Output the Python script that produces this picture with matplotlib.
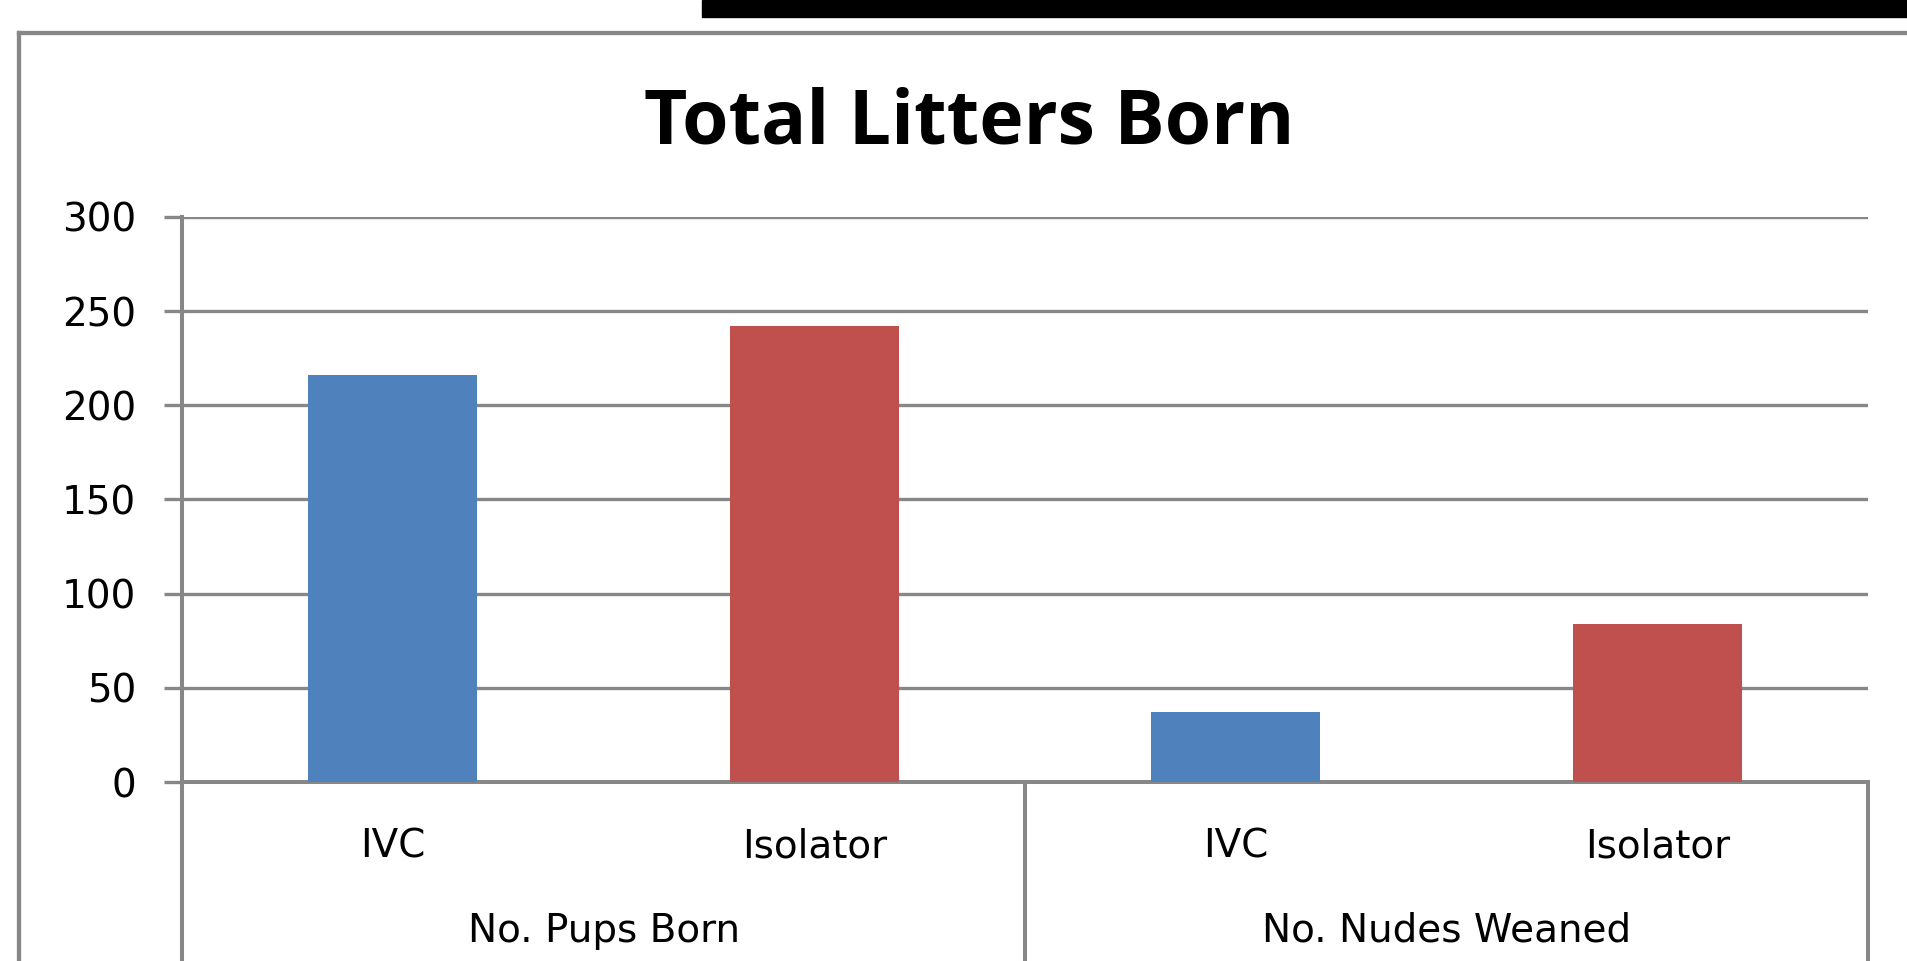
import matplotlib.pyplot as plt
from matplotlib.transforms import blended_transform_factory

# data
groups = ['No. Pups Born', 'No. Nudes Weaned']
housing = ['IVC', 'Isolator', 'IVC', 'Isolator']
counts = [216, 242, 37, 84]
bar_colors = ['#4F81BD', '#C0504D', '#4F81BD', '#C0504D']
yticks = [0, 50, 100, 150, 200, 250, 300]

W, H = 1908, 961
grey = '#878787'
fig = plt.figure(figsize=(W / 100, H / 100), dpi=100)
fig.patch.set_facecolor('white')

# outer chart frame (only left and top edges are visible) and black strip at top
fig.add_artist(plt.Line2D([19 / W, 19 / W], [0, 1 - 33 / H], color=grey, lw=3.1))
fig.add_artist(plt.Line2D([19 / W, 1], [1 - 33 / H, 1 - 33 / H], color=grey, lw=3.1))
fig.add_artist(plt.Rectangle((702 / W, 1 - 17 / H), 1 - 702 / W, 17 / H,
                             color='black', transform=fig.transFigure))

ax = fig.add_axes([182 / W, (H - 782) / H, (1868 - 182) / W, 565 / H])
x = list(range(len(counts)))
ax.bar(x, counts, width=0.4, color=bar_colors, zorder=3)

ax.set_xlim(-0.5, 3.5)
ax.set_ylim(0, 300)
ax.set_yticks(yticks)
ax.set_yticklabels([str(v) for v in yticks], fontsize=28, family='DejaVu Sans')
ax.set_xticks([])
ax.yaxis.grid(True, color=grey, lw=2.4, zorder=0)
ax.tick_params(axis='y', length=13, width=2.4, color=grey, pad=20)
for s in ['top', 'right']:
    ax.spines[s].set_visible(False)
ax.spines['left'].set_color(grey)
ax.spines['left'].set_linewidth(2.9)
ax.spines['bottom'].set_color(grey)
ax.spines['bottom'].set_linewidth(2.9)

trans = blended_transform_factory(ax.transData, ax.transAxes)
# multi-level category axis dividers
for xd in [-0.5, 1.5, 3.5]:
    ax.plot([xd, xd], [0, -0.4], transform=trans, color=grey, lw=2.9, clip_on=False)

for xi, lab in zip(x, housing):
    ax.text(xi, -(857 - 782) / 565, lab, transform=trans, ha='center', va='baseline',
            fontsize=28, family='DejaVu Sans')
for gi, g in enumerate(groups):
    ax.text(gi * 2 + 0.5, -(942 - 782) / 565, g, transform=trans, ha='center',
            va='baseline', fontsize=28, family='DejaVu Sans')

fig.text(969 / W, 1 - 143 / H, 'Total Litters Born', ha='center', va='baseline',
         fontsize=54, fontweight='bold', family='Open Sans')

fig.savefig('out.png', dpi=100)
